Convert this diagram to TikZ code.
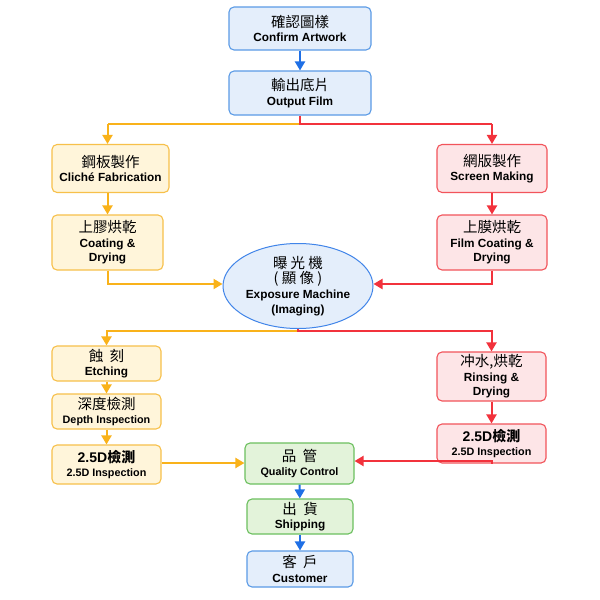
\documentclass[tikz,border=0pt]{standalone}
\usepackage{fontspec}
\setmainfont{Liberation Sans}
\newfontfamily\zh{Noto Sans CJK TC}
\usetikzlibrary{arrows.meta,shapes.geometric}
\definecolor{bB}{HTML}{5B9BE6}\definecolor{bF}{HTML}{E4EEFB}\definecolor{bA}{HTML}{1F6FE5}
\definecolor{oB}{HTML}{F7C04A}\definecolor{oF}{HTML}{FFF5DA}\definecolor{oA}{HTML}{F9B21A}
\definecolor{rB}{HTML}{F2545B}\definecolor{rF}{HTML}{FDE5E7}\definecolor{rA}{HTML}{F2323C}
\definecolor{gB}{HTML}{6CC05F}\definecolor{gF}{HTML}{E3F3DA}
\newcommand\zht[1]{{\zh\mdseries\fontsize{14.5}{17}\selectfont #1}}
\begin{document}
\begin{tikzpicture}[x=1pt,y=-1pt,
  box/.style={draw,rounded corners=5pt,line width=1.1pt,align=center,inner sep=0pt,
    font=\fontsize{11.8}{14.5}\selectfont\bfseries},
  bluebox/.style={box,draw=bB,fill=bF},
  orbox/.style={box,draw=oB,fill=oF},
  redbox/.style={box,draw=rB,fill=rF},
  grbox/.style={box,draw=gB,fill=gF},
  conn/.style={line width=2pt,-{Triangle[length=9pt,width=10pt]}},
  bconn/.style={conn,draw=bA},
  oconn/.style={conn,draw=oA},
  rconn/.style={conn,draw=rA}]
\useasboundingbox (0,0) rectangle (600,600);
\fill[white] (0,0) rectangle (600,600);
% nodes
\node[bluebox,minimum width=142,minimum height=43] (art) at (300,28.5) {\zht{確認圖樣}\\Confirm Artwork};
\node[bluebox,minimum width=142,minimum height=44] (film) at (300,93) {\zht{輸出底片}\\Output Film};
\node[orbox,minimum width=117,minimum height=48] (cli) at (110.5,168.5) {\zht{鋼板製作}\\Cliché Fabrication};
\node[orbox,minimum width=111,minimum height=55] (coat) at (107.5,242.5) {\zht{上膠烘乾}\\Coating \&\\Drying};
\node[redbox,minimum width=110,minimum height=48] (scr) at (492,168.5) {\zht{網版製作}\\Screen Making};
\node[redbox,minimum width=110,minimum height=55] (fcoat) at (492,242.5) {\zht{上膜烘乾}\\Film Coating \&\\Drying};
\node[draw=bA!85,fill=bF,ellipse,line width=1pt,minimum width=150,minimum height=85,inner sep=0pt,align=center,
  font=\fontsize{11.8}{15}\selectfont\bfseries] (exp) at (298,286)
  {\zht{曝 光 機}\\\zht{( 顯 像 )}\\Exposure Machine\\(Imaging)};
\node[orbox,minimum width=109,minimum height=35] (etch) at (106.5,363.5) {\zht{蝕\ \ 刻}\\Etching};
\node[orbox,minimum width=109,minimum height=35] (dep) at (106.5,411.5) {\zht{深度檢測}\\{\fontsize{10.8}{13}\selectfont Depth Inspection}};
\node[orbox,minimum width=109,minimum height=39] (ins1) at (106.5,464.5) {{\fontsize{14}{17}\selectfont 2.5D\zh 檢測}\\{\fontsize{10.8}{13}\selectfont 2.5D Inspection}};
\node[redbox,minimum width=109,minimum height=49] (rin) at (491.5,376.5) {\zht{冲水,烘乾}\\Rinsing \&\\Drying};
\node[redbox,minimum width=109,minimum height=39] (ins2) at (491.5,443.5) {{\fontsize{14}{17}\selectfont 2.5D\zh 檢測}\\{\fontsize{10.8}{13}\selectfont 2.5D Inspection}};
\node[grbox,minimum width=109,minimum height=41] (qc) at (299.5,463.5) {\zht{品\ \ 管}\\{\fontsize{10.8}{13}\selectfont Quality Control}};
\node[grbox,minimum width=106,minimum height=35] (ship) at (300,516.5) {\zht{出\ \ 貨}\\Shipping};
\node[bluebox,minimum width=106,minimum height=36] (cust) at (300,569) {\zht{客\ \ 戶}\\Customer};
% connectors
\draw[bconn] (art) -- (film);
\coordinate (brk) at (300,124);
\draw[line width=2pt,draw=oA] (brk) -- (brk -| coat.north);
\draw[oconn] (brk -| coat.north) -- (cli.north -| coat.north);
\draw[line width=2pt,draw=rA] (film.south) -- (brk) -- (brk -| fcoat.north);
\draw[rconn] (brk -| fcoat.north) -- (scr.north);
\draw[oconn] (cli.south -| coat.north) -- (coat.north);
\draw[rconn] (scr) -- (fcoat);
\draw[oconn] (coat.south) |- ([yshift=2]exp.west);
\draw[rconn] (fcoat.south) |- ([yshift=2]exp.east);
\draw[oconn] ([yshift=-2]exp.south) -| (etch.north);
\draw[rconn] (exp.south) -- ++(0,2) -| (rin.north);
\draw[oconn] (etch) -- (dep);
\draw[oconn] (dep) -- (ins1);
\draw[rconn] (rin) -- (ins2);
\draw[oconn] ([yshift=1.5]ins1.east) -- ([yshift=1.5]ins1.east -| qc.west);
\draw[rconn] (ins2.south) |- ([yshift=2.5]qc.east);
\draw[bconn] (qc) -- (ship);
\draw[bconn] (ship) -- (cust);
\end{tikzpicture}
\end{document}
